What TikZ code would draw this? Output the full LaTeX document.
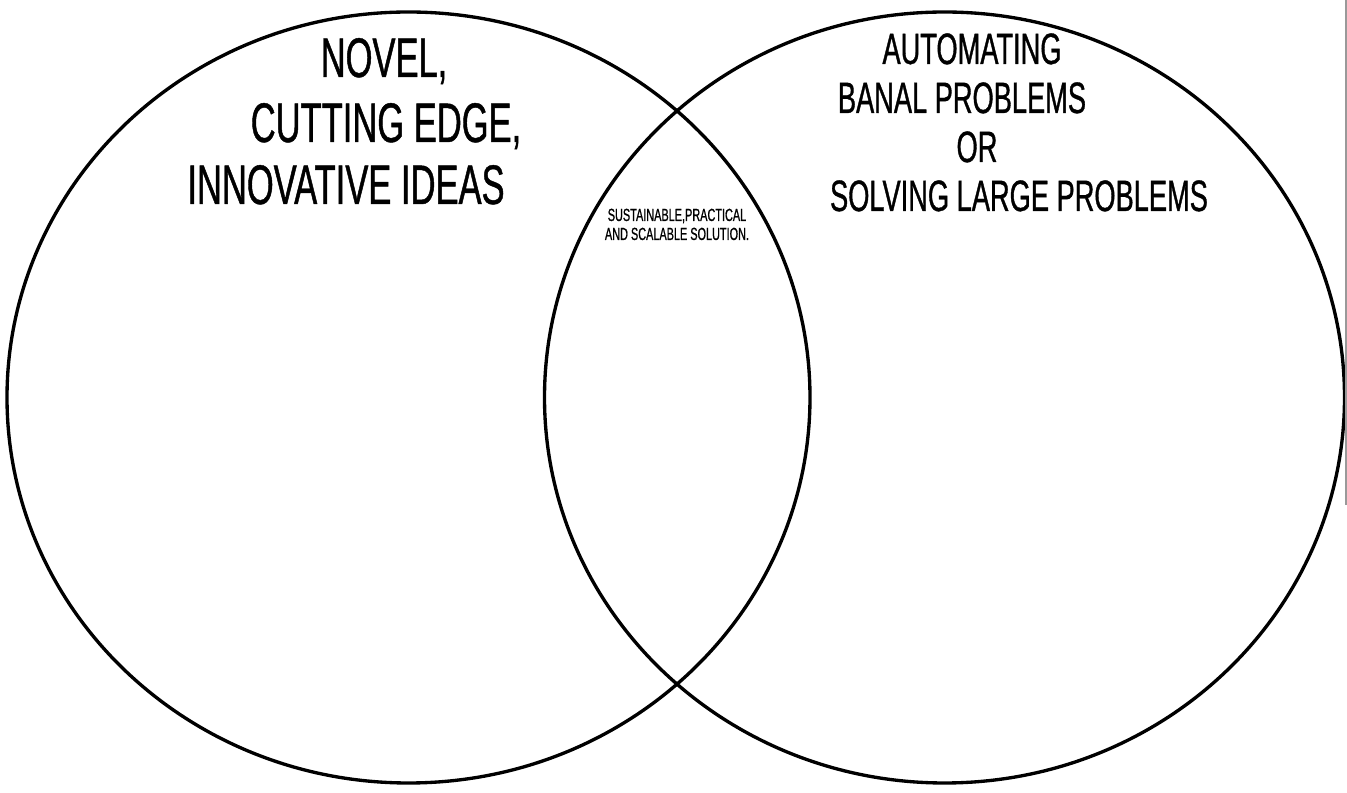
\documentclass[tikz,border=0pt]{standalone}
\usepackage{fontspec}
\newfontfamily\vennfont[FakeStretch=0.62, FakeBold=0.8]{Liberation Sans}
\usetikzlibrary{positioning}

\begin{document}
\begin{tikzpicture}[x = 0.02cm, y = -0.02cm, line width = 1.9pt,
  big/.style = {anchor = base, inner sep = 0pt, font = \vennfont\fontsize{31.7}{36}\selectfont},
  mid/.style = {anchor = base, inner sep = 0pt, font = \vennfont\fontsize{25}{30}\selectfont},
  small/.style = {anchor = base, inner sep = 0pt, font = \vennfont\fontsize{10}{12}\selectfont}]
\useasboundingbox (0,0) rectangle (1347,793);
\draw (408.5,397.5) ellipse [x radius = 401.5, y radius = 385.5];
\draw (944.5,397.5) ellipse [x radius = 400, y radius = 385.5];
\draw[line width = 1.2pt, gray!80] (1345.8,0) -- (1345.8,505);
\node[big] (l1) at (384,77) {NOVEL,};
\node[big] (l2) at (386,142) {CUTTING EDGE,};
\node[big] (l3) at (346,204) {INNOVATIVE IDEAS};
\node[mid] (r1) at (972,64) {AUTOMATING};
\node[mid] (r2) at (962,113) {BANAL PROBLEMS};
\node[mid] (r3) at (977,162) {OR};
\node[mid] (r4) at (1019,211) {SOLVING LARGE PROBLEMS};
\node[small] (m1) at (677,221) {SUSTAINABLE,PRACTICAL};
\node[small] (m2) at (677,240) {AND SCALABLE SOLUTION.};
\end{tikzpicture}
\end{document}
